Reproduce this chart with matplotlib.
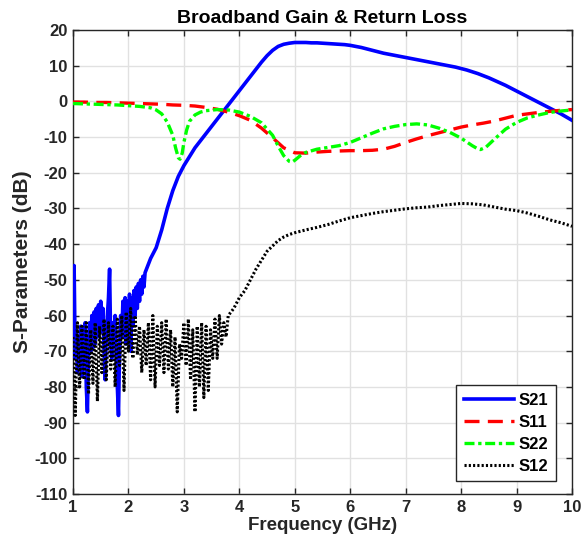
import numpy as np
import matplotlib
matplotlib.use("Agg")
import matplotlib.pyplot as plt

plt.rcParams['font.family'] = ['Liberation Sans', 'DejaVu Sans']
plt.rcParams['font.weight'] = 'bold'
plt.rcParams['axes.unicode_minus'] = False

# ---------------- data (GHz, dB) ----------------
# S21: noisy low band sampled every 0.02 GHz, then the main response every 0.1 GHz
s21_freq = np.concatenate([np.arange(1.00, 2.301, 0.02), np.arange(2.4, 10.001, 0.1)])
s21_db = [
    -66, -46, -72, -64, -76, -66, -74, -63, -77, -65, -72, -62, -80, -87, -70, -62,
    -70, -60, -69, -59, -68, -58, -66, -57, -65, -56, -64, -58, -70, -78, -66, -60,
    -55, -47, -68, -72, -62, -68, -60, -72, -80, -88, -70, -60, -66, -56, -64, -55,
    -68, -56, -62, -54, -70, -55, -63, -53, -60, -52, -58, -51, -56, -50, -54, -49,
    -52, -48,
    -44, -41, -36, -30, -25, -21, -18, -15.5, -13, -11, -9, -7, -5, -3, -1, 1,
    3, 5, 7, 9, 11, 12.8, 14.3, 15.4, 16, 16.3, 16.5, 16.5, 16.5, 16.4, 16.4, 16.3,
    16.2, 16.1, 16.0, 15.9, 15.7, 15.4, 15.1, 14.7, 14.3, 13.9, 13.5, 13.2, 12.9, 12.6,
    12.3, 12.0, 11.7, 11.4, 11.1, 10.8, 10.5, 10.2, 9.9, 9.6, 9.2, 8.8, 8.3, 7.8,
    7.2, 6.6, 5.9, 5.2, 4.5, 3.7, 2.9, 2.1, 1.3, 0.5, -0.3, -1.1, -1.9, -2.7,
    -3.5, -4.4, -5.3,
]

s11_freq = np.arange(1.0, 10.001, 0.2)
s11_db = [
    -0.2, -0.2, -0.3, -0.3, -0.4, -0.5, -0.6, -0.7, -0.8, -1.0, -1.1, -1.3, -1.7,
    -2.2, -3.0, -4.0, -5.3, -7.5, -10.2, -13.0, -14.4, -14.5, -14.2, -14.0, -13.9,
    -13.8, -13.8, -13.7, -13.4, -12.6, -11.5, -10.5, -9.6, -8.8, -8.0, -7.2, -6.6,
    -6.1, -5.5, -4.7, -3.9, -3.5, -3.1, -2.8, -2.5, -2.3,
]

s22_freq = [
    1.0, 1.2, 1.4, 1.6, 1.8, 2.0, 2.2, 2.4, 2.5, 2.6, 2.7, 2.8, 2.85, 2.9, 2.93,
    2.97, 3.0, 3.05, 3.1, 3.2, 3.3, 3.4, 3.6, 3.8, 4.0, 4.2, 4.4, 4.6, 4.7, 4.8,
    4.9, 4.95, 5.0, 5.1, 5.2, 5.4, 5.6, 5.8, 6.0, 6.2, 6.4, 6.6, 6.8, 7.0, 7.2,
    7.4, 7.6, 7.8, 8.0, 8.2, 8.3, 8.35, 8.45, 8.6, 8.8, 9.0, 9.2, 9.4, 9.6, 9.8, 10.0,
]
s22_db = [
    -0.6, -0.7, -0.8, -0.9, -1.0, -1.2, -1.4, -1.8, -2.4, -3.5, -5.8, -9.5, -13.0,
    -15.8, -16.2, -14.5, -11.5, -8.0, -5.6, -3.8, -3.0, -2.6, -2.3, -2.4, -3.0,
    -4.2, -6.0, -9.5, -12.5, -15.2, -16.8, -17.0, -16.5, -15.2, -14.3, -13.4,
    -12.9, -12.4, -11.5, -10.2, -8.9, -7.7, -7.0, -6.5, -6.3, -6.6, -7.5, -8.7,
    -10.3, -12.4, -13.3, -13.5, -12.8, -10.6, -7.8, -5.9, -4.6, -3.8, -3.1, -2.7, -2.4,
]

# S12: noisy floor every 0.04 GHz up to 3.8 GHz, then every 0.1/0.2 GHz
s12_freq = np.concatenate([
    np.arange(1.00, 3.801, 0.04),
    [3.9, 4.0, 4.1, 4.2, 4.3, 4.4, 4.5, 4.6, 4.7, 4.8, 4.9],
    np.arange(5.0, 10.001, 0.2),
])
s12_db = [
    -66, -88, -62, -80, -63, -78, -62, -82, -64, -79, -62, -84, -63, -76, -61, -78,
    -62, -75, -63, -80, -61, -74, -60, -81, -59, -70, -58, -72, -60, -71, -63, -76,
    -64, -74, -62, -78, -60, -80, -63, -74, -62, -76, -61, -75, -64, -80, -66, -87,
    -68, -72, -62, -74, -61, -78, -64, -87, -63, -80, -62, -83, -63, -81, -64, -72,
    -61, -72, -60, -68, -62, -66, -60,
    -58, -55, -53, -50, -47, -44.5, -42, -40.5, -39, -38, -37.3,
    -36.8, -36, -35.3, -34.5, -33.5, -32.6, -32, -31.4, -30.9, -30.5, -30.1, -29.8,
    -29.6, -29.2, -28.9, -28.6, -28.7, -29.0, -29.6, -30.2, -30.6, -31.3, -32.2,
    -33.2, -34.0, -35.0,
]

series_names = ["S21", "S11", "S22", "S12"]
x_ticks = list(range(1, 11))
y_ticks = list(range(20, -111, -10))

# ---------------- figure ----------------
fig = plt.figure(figsize=(5.81, 5.53), dpi=100)
ax = fig.add_axes([73 / 581, 1 - 494 / 553, (572 - 73) / 581, (494 - 30) / 553])

ax.plot(s21_freq, s21_db, color='#0000ff', lw=2.6, ls='-', label=series_names[0], zorder=3)
ax.plot(s11_freq, s11_db, color='#ff0000', lw=2.4, ls=(0, (4.5, 2.5)), label=series_names[1], zorder=3)
ax.plot(s22_freq, s22_db, color='#00ff00', lw=2.4, ls=(0, (3, 1.1, 1, 1.1)), label=series_names[2], zorder=3)
ax.plot(s12_freq, s12_db, color='#000000', lw=2.2, ls=(0, (0.7, 0.7)), label=series_names[3], zorder=4)

ax.set_xlim(1, 10)
ax.set_ylim(-110, 20)
ax.set_xticks(x_ticks)
ax.set_yticks(y_ticks)
ax.grid(True, color='#e1e1e1', lw=1.0)
ax.set_axisbelow(True)

ax.tick_params(direction='in', top=True, right=True, length=4, width=1.0,
               colors='#262626', labelsize=12, pad=4)
for lab in ax.get_xticklabels() + ax.get_yticklabels():
    lab.set_fontweight('bold')
for sp in ax.spines.values():
    sp.set_color('#262626')
    sp.set_linewidth(1.0)

ax.set_xlabel('Frequency (GHz)', fontsize=13.5, fontweight='bold', color='#262626', labelpad=2)
ax.set_ylabel('S-Parameters (dB)', fontsize=15, fontweight='bold', color='#262626', labelpad=2)
ax.set_title('Broadband Gain & Return Loss', fontsize=14, fontweight='bold', color='#000000', pad=5)

leg = ax.legend(loc='lower right', bbox_to_anchor=(0.968, 0.028), borderaxespad=0.0,
                fontsize=12, handlelength=3.0, handletextpad=0.3, borderpad=0.45,
                labelspacing=0.42, fancybox=False, framealpha=1.0, edgecolor='#262626')
leg.get_frame().set_linewidth(1.0)
for t in leg.get_texts():
    t.set_fontweight('bold')

fig.savefig('out.png', dpi=100)
